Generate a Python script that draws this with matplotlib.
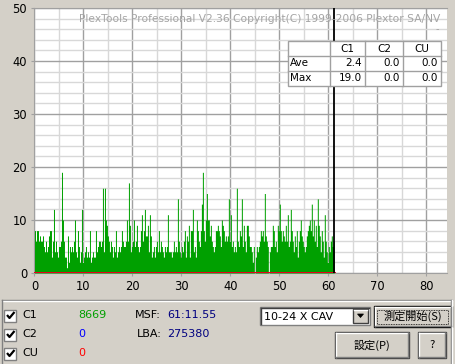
import numpy as np
import matplotlib
matplotlib.use("Agg")
from matplotlib import pyplot as plt
from matplotlib.patches import Rectangle, Polygon
from matplotlib.ticker import MultipleLocator

# C1 count per screen column (max over each ~12 s block)
c1_counts = [
    8, 6, 8, 8, 6, 7, 6, 6, 7, 5, 4, 6, 4, 5, 7, 8, 8, 3, 6, 12,
    4, 6, 4, 3, 5, 5, 6, 19, 10, 6, 3, 3, 1, 7, 2, 5, 4, 5, 4, 6,
    10, 4, 3, 8, 5, 2, 4, 12, 2, 3, 4, 5, 3, 4, 3, 8, 2, 3, 4, 3,
    3, 8, 4, 5, 6, 6, 5, 6, 16, 4, 16, 10, 9, 7, 6, 4, 6, 5, 3, 5,
    4, 8, 3, 4, 5, 4, 5, 8, 6, 5, 5, 6, 10, 6, 17, 9, 4, 5, 6, 10,
    5, 6, 9, 5, 4, 5, 8, 11, 6, 8, 12, 7, 7, 9, 4, 11, 7, 3, 4, 5,
    3, 5, 6, 4, 8, 4, 6, 5, 4, 3, 5, 4, 5, 11, 4, 4, 4, 3, 4, 6,
    4, 5, 4, 14, 6, 4, 3, 5, 4, 6, 8, 3, 7, 6, 9, 3, 8, 8, 12, 4,
    5, 3, 10, 8, 6, 5, 8, 13, 19, 8, 6, 10, 15, 10, 10, 7, 9, 6, 5, 4,
    5, 8, 8, 9, 8, 7, 5, 10, 9, 8, 6, 7, 6, 7, 14,
    6, 11, 5, 6, 4, 5, 4, 16, 6, 5, 8, 7, 14, 5, 9, 6, 4, 9, 9, 7,
    5, 5, 4, 2, 5, 0, 3, 5, 4, 5, 6, 8, 7, 8, 6, 15, 7, 6, 5, 0,
    4, 5, 5, 9, 8, 5, 6, 4, 9, 8, 13, 8, 6, 8, 7, 6, 9, 6, 11, 5,
    6, 12, 8, 6, 4, 7, 5, 8, 3, 6, 8, 10, 7, 6, 5, 4, 5, 7, 8, 9,
    10, 8, 13, 7, 10, 6, 9, 5, 14, 9, 7, 4, 8, 6, 3, 11, 6, 4, 2, 5,
    4, 6, 7, 5, 6,
]
c2_counts = [0] * len(c1_counts)
cu_counts = [0] * len(c1_counts)

end_minute = 61 + (11 + 55 / 75) / 60   # MSF 61:11.55
x_ticks = [0, 10, 20, 30, 40, 50, 60, 70, 80]
y_ticks = [0, 10, 20, 30, 40, 50]

stat_cols = ["C1", "C2", "CU"]
stat_rows = ["Ave", "Max"]
stat_vals = [["2.4", "0.0", "0.0"], ["19.0", "0.0", "0.0"]]

err_names = ["C1", "C2", "CU"]
err_totals = [8669, 0, 0]
err_colors = ["#00A000", "#0000FF", "#FF0000"]
msf_text = "61:11.55"
lba_value = 275380
speed_text = "10-24 X CAV"
title_text = "PlexTools Professional V2.36 Copyright(C) 1999-2006 Plextor SA/NV"

W, H = 456, 364
bg = "#D4D0C8"
jp = ["Noto Sans CJK JP", "DejaVu Sans"]

fig = plt.figure(figsize=(W / 100, H / 100), dpi=100, facecolor=bg)
ax = fig.add_axes([34 / W, (H - 273) / H, 413 / W, 265 / H])
ax.set_facecolor("white")

step = end_minute / len(c1_counts)
edges = np.arange(len(c1_counts) + 1) * step
c1 = np.append(c1_counts, c1_counts[-1])
ax.fill_between(edges, 0, c1, step="post", color="#00A000", lw=0, zorder=3)
ax.step(edges, np.append(c2_counts, 0), where="post", color="#0000FF", lw=2, zorder=4)
ax.step(edges, np.append(cu_counts, 0), where="post", color="#FF0000", lw=2, zorder=5)
ax.axvline(end_minute, color="black", lw=1.3, zorder=6)

ax.set_xlim(-0.1, 84.2)
ax.set_ylim(0, 50)
ax.set_xticks(x_ticks)
ax.set_yticks(y_ticks)
ax.xaxis.set_minor_locator(MultipleLocator(5))
ax.yaxis.set_minor_locator(MultipleLocator(2))
ax.grid(which="major", color="#A0A0A0", lw=1, zorder=1)
ax.grid(which="minor", color="#D8D8D8", lw=1, zorder=0)
ax.set_axisbelow(True)
ax.tick_params(which="major", length=2, color="#A0A0A0", labelsize=8.3, pad=3)
ax.tick_params(which="minor", length=0)
ax.spines["right"].set_visible(False)
for side in ["left", "top", "bottom"]:
    ax.spines[side].set_color("#A0A0A0")

# overlay in pixel coordinates for the window parts
ov = fig.add_axes([0, 0, 1, 1])
ov.set_xlim(0, W)
ov.set_ylim(H, 0)
ov.axis("off")
ov.patch.set_alpha(0)

ov.text(440, 19, title_text, ha="right", va="center", fontsize=7.7, color="#A4A4A4")
ov.text(437, 29, "-", ha="center", va="center", fontsize=7, color="#A4A4A4")

# statistics table
xe = [288, 330, 365, 403, 441]
ye = [41, 56, 71, 85.5]
ov.add_patch(Rectangle((xe[0], ye[0]), xe[-1] - xe[0], ye[-1] - ye[0],
                       facecolor="white", edgecolor="#A0A0A0", lw=1, zorder=2))
for xv in xe[1:-1]:
    ov.plot([xv, xv], [ye[0], ye[-1]], color="#A0A0A0", lw=1, zorder=3)
for yv in ye[1:-1]:
    ov.plot([xe[0], xe[-1]], [yv, yv], color="#A0A0A0", lw=1, zorder=3)
for j, name in enumerate(stat_cols):
    ov.text((xe[j + 1] + xe[j + 2]) / 2, (ye[0] + ye[1]) / 2, name,
            ha="center", va="center", fontsize=7.5, zorder=4)
for i, name in enumerate(stat_rows):
    yc = (ye[i + 1] + ye[i + 2]) / 2
    ov.text(xe[0] + 2, yc, name, ha="left", va="center", fontsize=7.5, zorder=4)
    for j, val in enumerate(stat_vals[i]):
        ov.text(xe[j + 2] - 3, yc, val, ha="right", va="center", fontsize=7.5, zorder=4)

# bottom panel
ov.plot([2, 452], [300, 300], color="#808080", lw=1)
ov.plot([2, 452], [301, 301], color="white", lw=1)
ov.plot([2, 2], [300, H], color="#808080", lw=1)
ov.plot([451, 451], [300, H], color="#808080", lw=1)
ov.plot([452, 452], [300, H], color="white", lw=1)

rows_y = [315, 334, 353]
for name, total, col, yc in zip(err_names, err_totals, err_colors, rows_y):
    ov.add_patch(Rectangle((4.5, yc - 5.5), 12, 12, facecolor="white",
                           edgecolor="#808080", lw=1))
    ov.plot([7, 9.5, 14.5], [yc, yc + 3, yc - 3], color="black", lw=1.6,
            solid_capstyle="butt")
    ov.text(22, yc, name, ha="left", va="center", fontsize=8)
    ov.text(78, yc, str(total), ha="left", va="center", fontsize=8, color=col)

ov.text(135, rows_y[0], "MSF:", ha="left", va="center", fontsize=8)
ov.text(167, rows_y[0], msf_text, ha="left", va="center", fontsize=8, color="#000080")
ov.text(137, rows_y[1], "LBA:", ha="left", va="center", fontsize=8)
ov.text(167, rows_y[1], str(lba_value), ha="left", va="center", fontsize=8, color="#000080")

# combo box
ov.add_patch(Rectangle((260, 307), 110, 18, facecolor="white", edgecolor="#808080", lw=1))
ov.plot([261, 369], [308, 308], color="#404040", lw=1)
ov.plot([261, 261], [308, 324], color="#404040", lw=1)
ov.text(264, 316.5, speed_text, ha="left", va="center", fontsize=8)
ov.add_patch(Rectangle((353, 309), 15, 14, facecolor=bg, edgecolor="#404040", lw=1))
ov.plot([354, 367], [309.5, 309.5], color="white", lw=1)
ov.add_patch(Polygon([[357.5, 314], [363.5, 314], [360.5, 317.5]], closed=True,
                     facecolor="black", edgecolor="black", lw=0.5))


def draw_button(x0, y0, x1, y1, label, default=False):
    ov.add_patch(Rectangle((x0, y0), x1 - x0, y1 - y0, facecolor=bg,
                           edgecolor="black" if default else "#404040", lw=1))
    ov.plot([x0 + 1, x1 - 1], [y0 + 1, y0 + 1], color="white", lw=1)
    ov.plot([x0 + 1, x0 + 1], [y0 + 1, y1 - 1], color="white", lw=1)
    ov.plot([x0 + 1, x1 - 1], [y1 - 1, y1 - 1], color="#808080", lw=1)
    ov.plot([x1 - 1, x1 - 1], [y0 + 1, y1 - 1], color="#808080", lw=1)
    if default:
        ov.add_patch(Rectangle((x0 + 3.5, y0 + 3.5), x1 - x0 - 7, y1 - y0 - 7,
                               facecolor="none", edgecolor="black", lw=0.6,
                               linestyle=(0, (1, 1))))
    ov.text((x0 + x1) / 2, (y0 + y1) / 2, label, ha="center", va="center",
            fontsize=8, family=jp)


draw_button(374, 306, 452, 327, "測定開始(S)", default=True)
draw_button(335, 332, 409, 358, "設定(P)")
draw_button(418, 332, 446, 358, "?")

fig.savefig("out.png", dpi=100, facecolor=bg)
